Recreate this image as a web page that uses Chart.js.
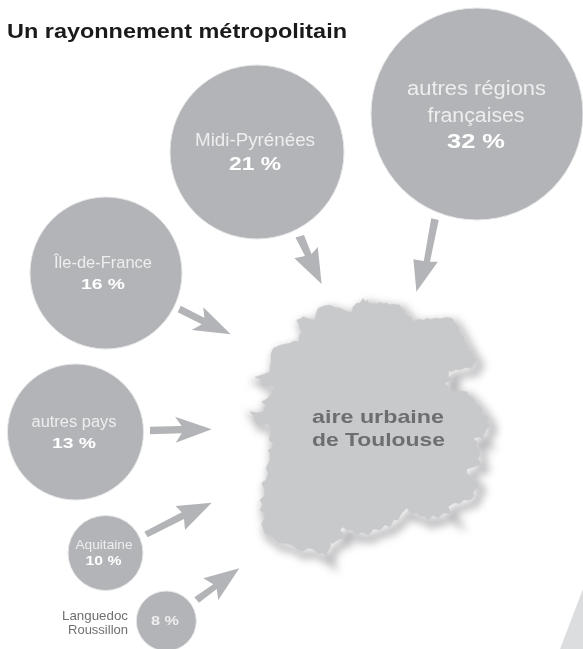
<!DOCTYPE html>
<html lang="fr">
<head>
  <meta charset="UTF-8">
  <title>Un rayonnement métropolitain</title>
  <script src="https://cdn.jsdelivr.net/npm/chart.js"></script>
  <style>
    body { margin: 0; background: #fff; }
    canvas { display: block; }
  </style>
</head>
<body>
  <canvas id="chart" width="583" height="649"></canvas>
  <script>
    // Origine des flux (en pixels de la figure)
    const regions = ['autres régions françaises', 'Midi-Pyrénées', 'Île-de-France', 'autres pays', 'Aquitaine', 'Languedoc Roussillon'];
    const shares = [32, 21, 16, 13, 10, 8];
    const bubbleX = [477, 257, 106, 75.5, 105.5, 166.3];
    const bubbleY = [114, 152, 273, 432, 553, 621];
    const bubbleR = [106, 87, 76, 68, 37.5, 30];

    // Flèches : [x, y] du contour
    const arrowRegions = [[431.2, 218.3], [438.7, 220], [430, 261.7], [437.9, 261.7], [416.4, 291.7], [413.4, 259.3], [423.8, 261]];
    const arrowMidi = [[295.5, 237.5], [304, 235], [311.5, 254], [317.8, 247], [321.6, 284], [294.4, 258.3], [305, 256]];
    const arrowIdf = [[180.7, 305.7], [177.7, 312.3], [201.7, 324.3], [191.7, 330], [230.7, 334.3], [203.3, 307.3], [204.3, 317.7]];
    const arrowPays = [[150, 426.7], [150, 434.3], [181.7, 433.3], [175.7, 442.7], [211.7, 429.3], [175, 416.7], [181.7, 426]];
    const arrowAquitaine = [[144.3, 531.7], [147.7, 537.3], [184, 519], [185, 530], [211.7, 502.7], [175.7, 506], [181.7, 512.3]];
    const arrowLanguedoc = [[194.3, 597.3], [199, 602.7], [216.7, 589], [218.3, 600], [239.3, 568.3], [203.3, 578.3], [213.3, 584.3]];

    // Contour de l'aire urbaine
    const outline = [
      [363.3, 298.3], [365, 302], [367.3, 300], [369, 304], [371, 303], [373.3, 306.7], [375, 303], [377, 304.5], [380, 302], [383, 304], [386.7, 303], [389, 305], [393, 304], [396.7, 305], [399, 304.5], [401, 308], [403.3, 309.3], [405, 313], [408.3, 316.7], [411, 317], [412, 320.5], [415, 321.7],
      [419, 319], [423, 320.5], [426.7, 318.3], [431, 319.5], [436, 318], [440, 319], [446, 317.5], [451.7, 318.3], [454, 322], [458.3, 326.7], [459, 331], [463.3, 336.7], [464, 340], [468.3, 346.7], [467, 349], [471.7, 351.7], [473, 356], [476.7, 360], [474, 364], [471.7, 368.3],
      [466, 367.5], [460, 370], [456, 369.5], [451.7, 371.7], [449, 371], [448.3, 376.7], [451, 377], [453.3, 381.7], [449, 381], [445, 383.3], [447, 386], [450, 388.3], [452, 392], [456.7, 393.3], [461, 391], [466.7, 391.7], [469, 396], [473.3, 398.3], [475, 403],
      [481.7, 408.3], [482, 413], [488.3, 418.3], [487, 422], [490, 426.7], [486, 429], [485, 433.3], [483, 436], [485, 440], [479, 437], [473.3, 438.3], [477, 442], [476.7, 446.7], [479, 449], [480, 453.3], [478, 459], [481.7, 465],
      [476, 466], [470, 468.3], [467, 469], [466.7, 473.3], [470, 476], [473.3, 480], [477, 482], [478.3, 486.7], [473, 492], [474, 496], [470, 500], [464, 500], [460, 503.3], [454, 503], [448.3, 506.7], [450, 511], [453.3, 516.7], [448, 513], [443.3, 513.3],
      [438, 518], [433, 515.5], [428.3, 520], [424, 516], [421.7, 516.7], [416, 513], [410, 513.3], [407, 508], [405, 510], [401, 514], [398.3, 520], [394, 520], [390, 526.7], [385, 525], [380, 530], [374, 529], [368.3, 535], [362, 532], [356.7, 535],
      [352, 530], [346.7, 530], [343, 527], [340, 530], [343, 533], [345, 538.3], [339, 539], [333.3, 543.3], [331, 543], [330, 548.3], [327, 552], [328.3, 558.3], [323, 553], [318.3, 553.3], [313, 549], [308.3, 548.3], [303, 551], [298.3, 550],
      [292, 545], [285, 543.3], [279, 543], [273.3, 538.3], [269, 535], [265, 533.3], [263, 528], [261.7, 523.3], [265, 518], [264, 513.3], [260, 510], [263, 505], [260, 500], [264, 496], [265, 490], [261.7, 483.3], [266, 480], [268.3, 473.3],
      [266, 468], [270, 460], [270, 455], [268.3, 450], [272, 448], [273.3, 443.3], [269, 440], [271, 432], [268.3, 423.3], [262, 424], [255, 421.7], [254, 416], [250, 411.7], [257, 413], [263.3, 411.7], [265, 407], [268.3, 405], [264, 404], [261.7, 401.7],
      [267, 399], [271.7, 393.3], [273, 390], [275, 386.7], [269, 386], [263.3, 383.3], [260, 379], [255, 377.3], [262, 375], [270, 371.7], [270, 366], [271.7, 361.7], [271, 354], [273.3, 348.3], [281, 345], [290, 343.3], [294, 341], [298.3, 341.7],
      [299, 336], [301.7, 331.7], [299, 325], [296.7, 320], [300, 319], [303.3, 316.7], [309, 319], [315, 320], [316, 314], [318.3, 308.3], [324, 306], [330, 305], [335, 307.5], [340, 308.3], [346, 311], [351.7, 313.3], [353, 307], [356.7, 303.3], [360, 303], [363.3, 298.3]
    ];

    const cornerShape = [[583, 589], [560, 649], [583, 649], [583, 589]];

    // Textes : [texte, x, y, taille, gras, couleur, largeur voulue, alignement]
    const labels = [
      ['Un rayonnement métropolitain', 7, 32, 20, true, '#1a1a1c', 340, 'left'],
      ['autres régions', 476.5, 89, 20, false, '#eeeeef', 139, 'center'],
      ['françaises', 476, 116, 20, false, '#eeeeef', 97, 'center'],
      ['32 %', 476, 142, 20, true, '#ffffff', 58, 'center'],
      ['Midi-Pyrénées', 255, 141, 18, false, '#eeeeef', 120, 'center'],
      ['21 %', 255, 165, 19, true, '#ffffff', 52, 'center'],
      ['Île-de-France', 103, 264, 16, false, '#eeeeef', 98, 'center'],
      ['16 %', 103, 285, 15, true, '#ffffff', 44, 'center'],
      ['autres pays', 74, 423, 16, false, '#eeeeef', 85, 'center'],
      ['13 %', 74, 444, 15.5, true, '#ffffff', 44, 'center'],
      ['Aquitaine', 104, 545, 13, false, '#eeeeef', 57, 'center'],
      ['10 %', 103.5, 561, 13.5, true, '#ffffff', 36, 'center'],
      ['8 %', 165, 621, 13.5, true, '#eeeeef', 28, 'center'],
      ['Languedoc', 128, 616, 13, false, '#6f7073', 66, 'right'],
      ['Roussillon', 128, 630, 13, false, '#6f7073', 60, 'right'],
      ['aire urbaine', 378, 418, 18.5, true, '#6d6e71', 132, 'center'],
      ['de Toulouse', 378.5, 441, 18.5, true, '#6d6e71', 133, 'center']
    ];

    const toPoints = list => list.map(([x, y]) => ({ x, y }));
    const closed = list => toPoints(list.concat([list[0]]));

    const arrowDataset = (name, list) => ({
      type: 'scatter',
      label: name,
      data: closed(list),
      showLine: true,
      fill: 'shape',
      backgroundColor: '#b3b4b7',
      borderColor: '#b3b4b7',
      borderWidth: 0,
      pointRadius: 0,
      order: 3
    });

    const labelPlugin = {
      id: 'labelPlugin',
      // ombre floue du contour, décalée vers le bas à droite
      beforeDatasetDraw(chart, args) {
        if (chart.data.datasets[args.index].label !== 'ombre') return;
        chart.ctx.save();
        chart.ctx.filter = 'blur(4px)';
        chart.ctx.translate(4, 5);
      },
      afterDatasetDraw(chart, args) {
        if (chart.data.datasets[args.index].label !== 'ombre') return;
        chart.ctx.restore();
      },
      afterDatasetsDraw(chart) {
        const ctx = chart.ctx;
        const { x: xScale, y: yScale } = chart.scales;
        labels.forEach(([text, x, y, size, bold, color, width, align]) => {
          ctx.save();
          ctx.font = (bold ? 'bold ' : '') + size + 'px "Liberation Sans"';
          ctx.fillStyle = color;
          ctx.textBaseline = 'middle';
          ctx.textAlign = 'left';
          const natural = ctx.measureText(text).width;
          let left = xScale.getPixelForValue(x);
          if (align === 'center') left -= width / 2;
          if (align === 'right') left -= width;
          ctx.translate(left, yScale.getPixelForValue(y));
          ctx.scale(width / natural, 1);
          ctx.fillText(text, 0, 0);
          ctx.restore();
        });
      }
    };

    new Chart(document.getElementById('chart'), {
      type: 'bubble',
      data: {
        datasets: [
          {
            label: 'Part des flux',
            data: shares.map((share, i) => ({ x: bubbleX[i], y: bubbleY[i], r: bubbleR[i], share, region: regions[i] })),
            backgroundColor: '#b3b4b7',
            borderColor: '#e6e7e8',
            borderWidth: 1,
            order: 1
          },
          {
            type: 'scatter',
            label: 'aire urbaine',
            data: toPoints(outline),
            showLine: true,
            fill: 'shape',
            backgroundColor: '#c8c9cb',
            borderColor: '#c8c9cb',
            borderWidth: 0.5,
            pointRadius: 0,
            order: 2
          },
          arrowDataset('autres régions', arrowRegions),
          arrowDataset('Midi-Pyrénées', arrowMidi),
          arrowDataset('Île-de-France', arrowIdf),
          arrowDataset('autres pays', arrowPays),
          arrowDataset('Aquitaine', arrowAquitaine),
          arrowDataset('Languedoc', arrowLanguedoc),
          {
            type: 'scatter',
            label: 'ombre',
            data: toPoints(outline),
            showLine: true,
            fill: false,
            borderColor: 'rgba(90,90,95,0.5)',
            borderWidth: 6,
            pointRadius: 0,
            order: 4
          },
          {
            type: 'scatter',
            label: 'angle',
            data: toPoints(cornerShape),
            showLine: true,
            fill: 'shape',
            backgroundColor: '#dcddde',
            borderWidth: 0,
            pointRadius: 0,
            order: 5
          }
        ]
      },
      options: {
        responsive: false,
        animation: false,
        layout: { padding: 0, autoPadding: false },
        scales: {
          x: { type: 'linear', display: false, min: 0, max: 583 },
          y: { type: 'linear', display: false, min: 0, max: 649, reverse: true }
        },
        plugins: { legend: { display: false }, tooltip: { enabled: false } }
      },
      plugins: [labelPlugin]
    });
  </script>
</body>
</html>
